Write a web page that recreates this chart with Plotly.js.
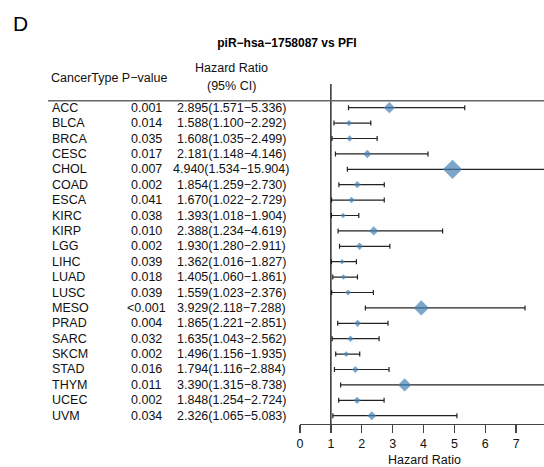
<!DOCTYPE html>
<html><head><meta charset="utf-8">
<script src="https://cdn.plot.ly/plotly-3.0.1.min.js"></script>
<style>html,body{margin:0;padding:0;overflow:hidden;background:#fff}</style>
</head><body><div id="chart" style="width:548px;height:467px"></div>
<script>
const cancerTypes = ["ACC","BLCA","BRCA","CESC","CHOL","COAD","ESCA","KIRC","KIRP","LGG","LIHC","LUAD","LUSC","MESO","PRAD","SARC","SKCM","STAD","THYM","UCEC","UVM"];
const pValues = ["0.001","0.014","0.035","0.017","0.007","0.002","0.041","0.038","0.010","0.002","0.039","0.018","0.039","<0.001","0.004","0.032","0.002","0.016","0.011","0.002","0.034"];
const hr    = [2.895,1.588,1.608,2.181,4.940,1.854,1.670,1.393,2.388,1.930,1.362,1.405,1.559,3.929,1.865,1.635,1.496,1.794,3.390,1.848,2.326];
const lower = [1.571,1.100,1.035,1.148,1.534,1.259,1.022,1.018,1.234,1.280,1.016,1.060,1.023,2.118,1.221,1.043,1.156,1.116,1.315,1.254,1.065];
const upper = [5.336,2.292,2.499,4.146,15.904,2.730,2.729,1.904,4.619,2.911,1.827,1.861,2.376,7.288,2.851,2.562,1.935,2.884,8.738,2.724,5.083];
const xTicks = [0,1,2,3,4,5,6,7,8];

const W = 548, H = 467;
const px = v => v / W;
const py = v => 1 - v / H;
const FONT = "Liberation Sans, Arial, Helvetica, sans-serif";
const rows = cancerTypes.map((_, i) => i);
const hrText = hr.map((h, i) => h.toFixed(3) + "(" + lower[i].toFixed(3) + "\u2212" + upper[i].toFixed(3) + ")");

const trace = {
  type: "scatter", mode: "markers",
  x: hr, y: rows,
  marker: { symbol: "diamond", color: "#4682B4", size: hr.map(h => h * 3.0), line: { width: 0 } },
  error_x: {
    type: "data", symmetric: false,
    array: upper.map((u, i) => u - hr[i]),
    arrayminus: lower.map((l, i) => hr[i] - l),
    color: "#222", thickness: 1.2, width: 2.5
  },
  hoverinfo: "skip", showlegend: false, cliponaxis: true
};

const annotations = [];
annotations.push({ text: "D", xref: "paper", yref: "paper", x: px(11), y: py(24), xanchor: "left", yanchor: "middle", showarrow: false, font: { family: FONT, size: 21, color: "#000" } });
annotations.push({ text: "CancerType P\u2212value", xref: "paper", yref: "paper", x: px(49), y: py(77.5), xanchor: "left", yanchor: "middle", showarrow: false, font: { family: FONT, size: 12.5, color: "#111" } });
annotations.push({ text: "Hazard Ratio", xref: "paper", yref: "paper", x: px(231), y: py(68), xanchor: "center", yanchor: "middle", showarrow: false, font: { family: FONT, size: 12.5, color: "#111" } });
annotations.push({ text: "(95% CI)", xref: "paper", yref: "paper", x: px(231), y: py(86), xanchor: "center", yanchor: "middle", showarrow: false, font: { family: FONT, size: 12.5, color: "#111" } });
annotations.push({ text: "Hazard Ratio", xref: "paper", yref: "paper", x: px(424), y: py(460), xanchor: "center", yanchor: "middle", showarrow: false, borderpad: 0, font: { family: FONT, size: 12.5, color: "#111" } });
cancerTypes.forEach((c, i) => {
  annotations.push({ text: c, xref: "paper", yref: "y", x: px(50), y: i, xanchor: "left", yanchor: "middle", showarrow: false, font: { family: FONT, size: 12.5, color: "#111" } });
  annotations.push({ text: pValues[i], xref: "paper", yref: "y", x: px(146), y: i, xanchor: "center", yanchor: "middle", showarrow: false, font: { family: FONT, size: 12.5, color: "#111" } });
  annotations.push({ text: hrText[i], xref: "paper", yref: "y", x: px(231), y: i, xanchor: "center", yanchor: "middle", showarrow: false, font: { family: FONT, size: 12.5, color: "#111" } });
});

const layout = {
  width: W, height: H,
  margin: { l: 0, r: 0, t: 0, b: 0, pad: 0 },
  paper_bgcolor: "#fff", plot_bgcolor: "#fff",
  font: { family: FONT, color: "#111" },
  title: { text: "<b>piR\u2212hsa\u22121758087 vs PFI</b>", x: px(287), xanchor: "center", y: py(43), yanchor: "middle", xref: "paper", yref: "paper", font: { family: FONT, size: 12, color: "#000" } },
  xaxis: {
    domain: [px(300), px(547)], range: [0, 8],
    tickmode: "array", tickvals: xTicks, ticktext: xTicks.map(String),
    ticks: "outside", ticklen: 8, tickwidth: 1.3, tickcolor: "#444",
    ticklabelstandoff: 0,
    showline: true, linecolor: "#444", linewidth: 1.3,
    showgrid: false, zeroline: false,
    tickfont: { family: FONT, size: 12.5, color: "#111" },
    fixedrange: true
  },
  yaxis: {
    domain: [py(424), py(84)], range: [20.54, -1.54],
    visible: false, showgrid: false, zeroline: false, fixedrange: true
  },
  shapes: [
    { type: "line", xref: "x", yref: "paper", x0: 1, x1: 1, y0: py(424), y1: py(84), line: { color: "#111", width: 1.3 } },
    { type: "line", xref: "paper", yref: "y", x0: px(48), x1: 1, y0: -0.45, y1: -0.45, line: { color: "#666", width: 1.6 } }
  ],
  annotations: annotations,
  showlegend: false
};

Plotly.newPlot("chart", [trace], layout, { displayModeBar: false, staticPlot: true });
</script></body></html>
